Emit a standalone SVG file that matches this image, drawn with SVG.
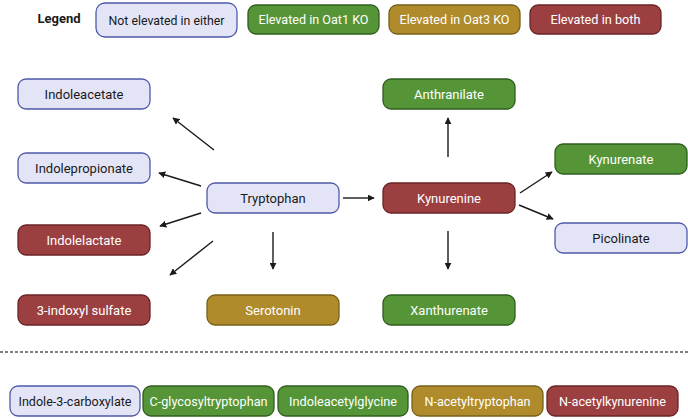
<svg xmlns="http://www.w3.org/2000/svg" width="688" height="419" viewBox="0 0 688 419">
<defs>
<style>
.n rect{stroke-width:1.3}
.b rect{fill:#e3e5f7;stroke:#4f5aa8}
.g rect{fill:#559537;stroke:#2f5e1f}
.y rect{fill:#b08b2c;stroke:#78601a}
.r rect{fill:#9c3f40;stroke:#6a2526}
text{font-family:Roboto,"Liberation Sans",sans-serif;font-size:13px;text-anchor:middle;dominant-baseline:central}
.b text{fill:#1a1a1a}
.g text,.y text,.r text{fill:#ffffff}
.s text{font-size:12.5px}
.c line{stroke:#1a1a1a;stroke-width:1.4;marker-end:url(#ah)}
</style>
<marker id="ah" viewBox="0 0 10 10" refX="9" refY="5" markerWidth="7" markerHeight="7" markerUnits="userSpaceOnUse" orient="auto">
<path d="M0,0 L10,5 L0,10 z" fill="#1a1a1a"/>
</marker>
</defs>
<rect width="688" height="419" fill="#ffffff"/>
<g id="legend">
<text x="59" y="18" style="font-weight:bold;font-size:13px;fill:#1a1a1a">Legend</text>
<g id="leg-none" class="n b"><rect x="96" y="3" width="141" height="34" rx="9"/><text x="166.5" y="20" textLength="116" lengthAdjust="spacingAndGlyphs">Not elevated in either</text></g>
<g id="leg-oat1" class="n g"><rect x="248" y="5" width="131" height="29" rx="8"/><text x="313.5" y="19.5" textLength="110" lengthAdjust="spacingAndGlyphs">Elevated in Oat1 KO</text></g>
<g id="leg-oat3" class="n y"><rect x="389" y="5" width="131" height="29" rx="8"/><text x="454.5" y="19.5" textLength="110" lengthAdjust="spacingAndGlyphs">Elevated in Oat3 KO</text></g>
<g id="leg-both" class="n r"><rect x="530" y="5" width="131" height="29" rx="8"/><text x="595.5" y="19.5" textLength="90" lengthAdjust="spacingAndGlyphs">Elevated in both</text></g>
</g>
<g id="indoleacetate" class="n b"><rect x="18" y="79" width="132" height="30" rx="8"/><text x="84" y="94">Indoleacetate</text></g>
<g id="indolepropionate" class="n b"><rect x="18" y="153" width="132" height="30" rx="8"/><text x="84" y="168">Indolepropionate</text></g>
<g id="indolelactate" class="n r"><rect x="18" y="225" width="132" height="30" rx="8"/><text x="84" y="240">Indolelactate</text></g>
<g id="indoxyl-sulfate" class="n r"><rect x="18" y="295" width="132" height="30" rx="8"/><text x="84" y="310">3-indoxyl sulfate</text></g>
<g id="tryptophan" class="n b"><rect x="207" y="183" width="132" height="30" rx="8"/><text x="273" y="198">Tryptophan</text></g>
<g id="serotonin" class="n y"><rect x="207" y="295" width="132" height="30" rx="8"/><text x="273" y="310">Serotonin</text></g>
<g id="anthranilate" class="n g"><rect x="383" y="79" width="132" height="30" rx="8"/><text x="449" y="94">Anthranilate</text></g>
<g id="kynurenine" class="n r"><rect x="383" y="183" width="132" height="30" rx="8"/><text x="449" y="198">Kynurenine</text></g>
<g id="xanthurenate" class="n g"><rect x="383" y="295" width="132" height="30" rx="8"/><text x="449" y="310">Xanthurenate</text></g>
<g id="kynurenate" class="n g"><rect x="555" y="144" width="132" height="30" rx="8"/><text x="621" y="159">Kynurenate</text></g>
<g id="picolinate" class="n b"><rect x="555" y="223" width="132" height="30" rx="8"/><text x="621" y="238">Picolinate</text></g>
<g id="connectors" class="c">
<line x1="214" y1="150" x2="173" y2="118"/>
<line x1="201" y1="186" x2="159" y2="173"/>
<line x1="201" y1="213" x2="160" y2="226"/>
<line x1="213" y1="241" x2="170" y2="275"/>
<line x1="273" y1="232" x2="273" y2="269"/>
<line x1="343" y1="198" x2="374" y2="198"/>
<line x1="448" y1="157" x2="448" y2="118"/>
<line x1="520" y1="193" x2="552" y2="172"/>
<line x1="519" y1="205" x2="553" y2="219"/>
<line x1="448" y1="231" x2="448" y2="269"/>
</g>
<line id="divider" x1="0" y1="352" x2="688" y2="352" stroke="#555555" stroke-width="1.3" stroke-dasharray="3,2"/>
<g id="indole3carboxylate" class="n b s"><rect x="10" y="386" width="130" height="30" rx="8"/><text x="75" y="401" textLength="113" lengthAdjust="spacingAndGlyphs">Indole-3-carboxylate</text></g>
<g id="cglycosyltryptophan" class="n g s"><rect x="143" y="386" width="131" height="30" rx="8"/><text x="208.5" y="401" textLength="118" lengthAdjust="spacingAndGlyphs">C-glycosyltryptophan</text></g>
<g id="indoleacetylglycine" class="n g s"><rect x="278" y="386" width="130" height="30" rx="8"/><text x="343" y="401" textLength="108" lengthAdjust="spacingAndGlyphs">Indoleacetylglycine</text></g>
<g id="nacetyltryptophan" class="n y s"><rect x="412" y="386" width="131" height="30" rx="8"/><text x="477.5" y="401" textLength="106" lengthAdjust="spacingAndGlyphs">N-acetyltryptophan</text></g>
<g id="nacetylkynurenine" class="n r s"><rect x="547" y="386" width="131" height="30" rx="8"/><text x="612.5" y="401" textLength="107" lengthAdjust="spacingAndGlyphs">N-acetylkynurenine</text></g>
</svg>
